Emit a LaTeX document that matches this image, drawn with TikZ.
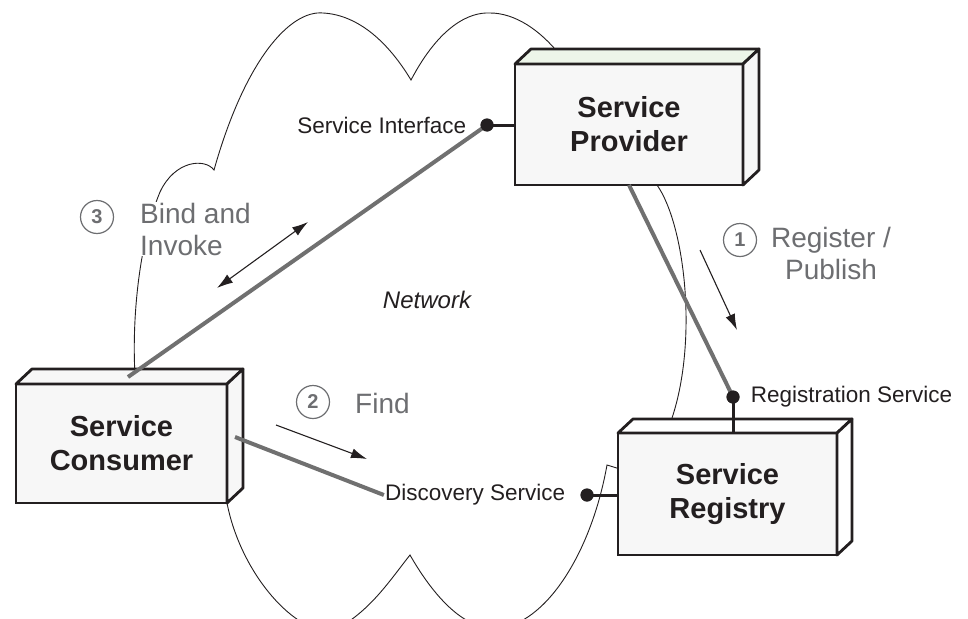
\documentclass[tikz,border=0pt]{standalone}
\usepackage{fontspec}
\setmainfont{Liberation Sans}
\usepackage{tikz}
\usetikzlibrary{arrows.meta, positioning}
\definecolor{Ink}{HTML}{231F20}
\definecolor{Wire}{HTML}{707070}
\definecolor{StepGray}{HTML}{6D6E71}
\definecolor{BoxFill}{HTML}{F7F7F7}
\definecolor{TopGreen}{HTML}{EDF5E9}

\begin{document}
\begin{tikzpicture}[
  x=1pt, y=-1pt,
  box/.style={draw=Ink, line width=2.8pt, outer sep=0pt, fill=BoxFill, align=center, minimum height=121pt, text=Ink, font=\bfseries\fontsize{29}{34}\selectfont},
  face/.style={draw=Ink, line width=2.8pt, line join=round, fill=BoxFill},
  wire/.style={draw=Wire, line width=4pt},
  stub/.style={draw=Ink, line width=3pt},
  dot/.style={circle, fill=Ink, inner sep=0pt, minimum size=13pt},
  port/.style={text=Ink, inner sep=1pt, font=\fontsize{22.5}{26}\selectfont},
  stepnum/.style={circle, draw=StepGray, line width=1.2pt, minimum size=33pt, inner sep=0pt, text=StepGray, font=\bfseries\fontsize{20}{22}\selectfont},
  steptext/.style={text=StepGray, fill=white, inner sep=1pt, font=\fontsize{28}{32}\selectfont},
  flow/.style={-{Latex[length=16pt, width=10pt]}, line width=1.1pt, draw=Ink},
  twoway/.style={{Latex[length=16pt, width=10pt]}-{Latex[length=16pt, width=10pt]}, line width=1.1pt, draw=Ink},
  cloud/.style={draw=Ink, line width=0.9pt}
]
\useasboundingbox (0,0) rectangle (968,618);

% network cloud, runs behind the boxes
\begin{scope}
\clip (0,0) rectangle (968,618);
\draw[cloud] (136,390) .. controls (130,320) and (140,240) .. (160,192)
  .. controls (175,160) and (205,158) .. (214,170)
  .. controls (245,60) and (290,10) .. (323,13)
  .. controls (360,15) and (390,45) .. (411,80)
  .. controls (440,25) and (470,12) .. (490,13)
  .. controls (515,13) and (540,30) .. (560,55)
  -- (650,170) -- (657,185)
  .. controls (685,225) and (698,340) .. (672,418)
  -- (672,440) -- (620,469) -- (607,465)
  .. controls (590,560) and (540,630) .. (493,628)
  .. controls (460,628) and (430,590) .. (410,555)
  .. controls (390,580) and (368,615) .. (330,632)
  .. controls (290,630) and (240,570) .. (227,503)
  -- cycle;
\end{scope}

\node[box, minimum width=228pt] (provider) at (629,124.5) {Service\\Provider};
\draw[face, fill=TopGreen] (provider.north west) -- ++(16,-15) -- ([shift={(16,-15)}]provider.north east) -- (provider.north east) -- cycle;
\draw[face] (provider.north east) -- ++(16,-15) -- ([shift={(16,-15)}]provider.south east) -- (provider.south east) -- cycle;

\node[box, minimum width=211pt, minimum height=119pt] (consumer) at (121.5,443.5) {Service\\Consumer};
\draw[face] (consumer.north west) -- ++(16,-15) -- ([shift={(16,-15)}]consumer.north east) -- (consumer.north east) -- cycle;
\draw[face] (consumer.north east) -- ++(16,-15) -- ([shift={(16,-15)}]consumer.south east) -- (consumer.south east) -- cycle;

\node[box, minimum width=219pt, minimum height=122pt] (registry) at (727.5,494) {Service\\Registry};
\draw[face, fill=white] (registry.north west) -- ++(15,-14) -- ([shift={(15,-14)}]registry.north east) -- (registry.north east) -- cycle;
\draw[face, fill=white] (registry.north east) -- ++(15,-14) -- ([shift={(15,-14)}]registry.south east) -- (registry.south east) -- cycle;

\node[dot] (ifc) at (487,125) {};
\node[dot] (reg) at (733,397) {};
\node[dot] (disc) at (587,495) {};
\node[port, left=13pt of ifc] (ifcLabel) {Service Interface};
\node[port, right=10pt of reg] (regLabel) {Registration Service};
\node[port, left=14pt of disc] (discLabel) {Discovery Service};

\coordinate (bindStart) at (128,377);
\coordinate (findStart) at (235,437);
\draw[wire] (bindStart) -- (ifc.center);
\draw[wire] (provider.south) -- (reg.center);
\draw[wire] (findStart) -- (discLabel.west);
\draw[stub] (ifc.center) -- (ifc -| provider.west);
\draw[stub] (reg.center) -- (reg |- registry.north);
\draw[stub] (disc.center) -- (disc -| registry.west);
\node[dot] at (ifc) {};
\node[dot] at (reg) {};
\node[dot] at (disc) {};

\node[stepnum] (one) at (740,240) {1};
\node[steptext, align=center] (oneText) at (831,253) {Register /\\Publish};
\node[stepnum] (two) at (313,402) {2};
\node[steptext, anchor=west] (twoText) at (354,403) {Find};
\node[stepnum] (three) at (97,217) {3};
\node[steptext, align=left, anchor=west] (threeText) at (139,229) {Bind and\\Invoke};
\node[font=\itshape\fontsize{24}{26}\selectfont, text=Ink] (net) at (427,300) {Network};

\coordinate (pubA) at (700,250);
\coordinate (pubB) at (737,330);
\coordinate (findA) at (276,425);
\coordinate (findB) at (367,459);
\coordinate (bindA) at (217,288);
\coordinate (bindB) at (308,222);
\draw[flow] (pubA) -- (pubB);
\draw[flow] (findA) -- (findB);
\draw[twoway] (bindA) -- (bindB);
\end{tikzpicture}
\end{document}
